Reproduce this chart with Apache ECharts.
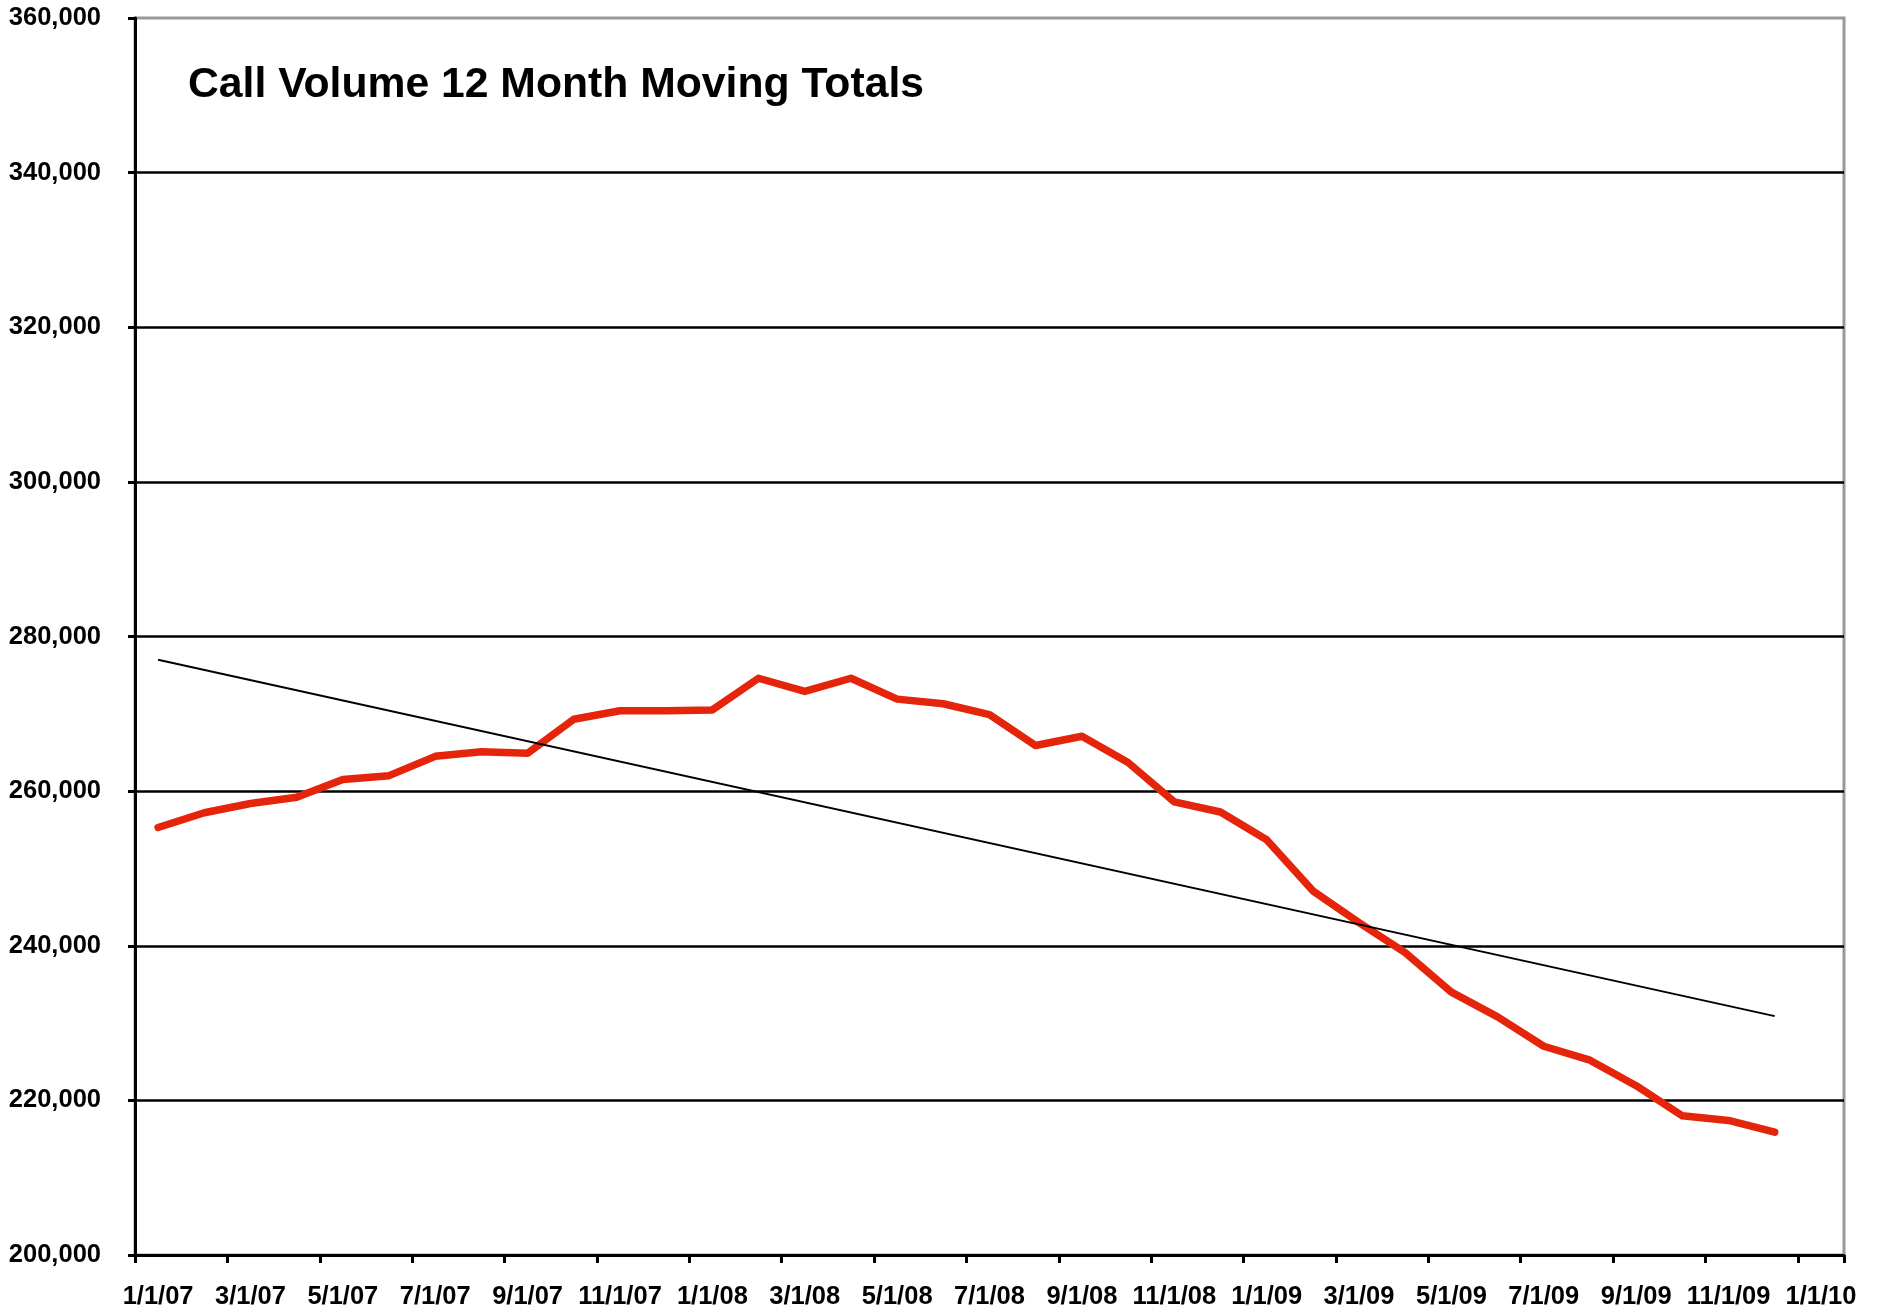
<!DOCTYPE html>
<html>
<head>
<meta charset="utf-8">
<script src="https://cdn.jsdelivr.net/npm/echarts@6/dist/echarts.min.js"></script>
<style>
html,body{margin:0;padding:0;background:#fff;}
#chart{width:1883px;height:1313px;}
</style>
</head>
<body>
<div id="chart"></div>
<script>
const titleText = 'Call Volume 12 Month Moving Totals';
const categories = [
  '1/1/07','2/1/07','3/1/07','4/1/07','5/1/07','6/1/07','7/1/07','8/1/07','9/1/07','10/1/07','11/1/07','12/1/07',
  '1/1/08','2/1/08','3/1/08','4/1/08','5/1/08','6/1/08','7/1/08','8/1/08','9/1/08','10/1/08','11/1/08','12/1/08',
  '1/1/09','2/1/09','3/1/09','4/1/09','5/1/09','6/1/09','7/1/09','8/1/09','9/1/09','10/1/09','11/1/09','12/1/09',
  '1/1/10'
];
const callVolume = [
  255300, 257200, 258400, 259200, 261500, 262000, 264500, 265100, 264900, 269300, 270400, 270400,
  270500, 274600, 272900, 274600, 271900, 271300, 269900, 265900, 267100, 263700, 258600, 257300,
  253700, 247100, 243000, 239100, 234000, 230800, 227000, 225200, 221900, 218000, 217400, 215900
];
const trendStart = 277000;
const trendEnd = 230900;
const yMin = 200000, yMax = 360000, yStep = 20000;

const trendData = callVolume.map((v, i) => i === 0 ? trendStart : (i === callVolume.length - 1 ? trendEnd : null));

const font = '"Liberation Sans", Arial, Helvetica, sans-serif';
const chart = echarts.init(document.getElementById('chart'));
chart.setOption({
  animation: false,
  backgroundColor: '#fff',
  title: {
    text: titleText,
    left: 183,
    top: 59,
    textStyle: { fontFamily: font, fontWeight: 'bold', fontSize: 42.7, color: '#000' }
  },
  grid: {
    left: 135, right: 39, top: 18, bottom: 58,
    show: true, borderColor: '#999', borderWidth: 3, backgroundColor: 'transparent'
  },
  xAxis: {
    type: 'category',
    data: categories,
    boundaryGap: true,
    axisLine: { lineStyle: { color: '#000', width: 3 } },
    axisTick: { show: true, interval: 1, length: 8, lineStyle: { color: '#000', width: 3 } },
    axisLabel: { interval: 1, margin: 29, fontFamily: font, fontWeight: 'bold', fontSize: 25.5, color: '#000' },
    splitLine: { show: false }
  },
  yAxis: {
    type: 'value',
    min: yMin, max: yMax, interval: yStep,
    axisLine: { show: true, lineStyle: { color: '#000', width: 3 } },
    axisTick: { show: true, length: 7, lineStyle: { color: '#000', width: 3 } },
    axisLabel: {
      margin: 34, fontFamily: font, fontWeight: 'bold', fontSize: 25.5, color: '#000',
      formatter: v => v.toLocaleString('en-US')
    },
    splitLine: { show: true, showMaxLine: false, showMinLine: false, lineStyle: { color: '#000', width: 2.5 } }
  },
  series: [
    {
      name: 'Call Volume',
      type: 'line',
      data: callVolume,
      symbol: 'none',
      lineStyle: { color: '#e5250b', width: 7.5, cap: 'round', join: 'round' },
      z: 3
    },
    {
      name: 'Trend',
      type: 'line',
      data: trendData,
      connectNulls: true,
      symbol: 'none',
      lineStyle: { color: '#000', width: 2 },
      z: 4
    }
  ]
});
</script>
</body>
</html>
